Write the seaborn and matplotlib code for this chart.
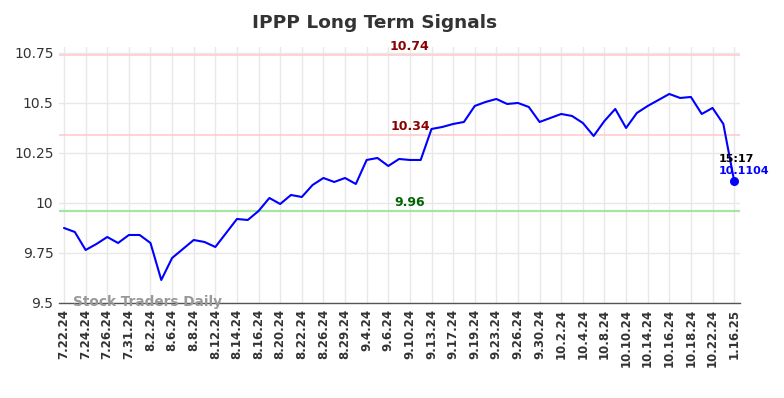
import pandas as pd
import seaborn as sns
from matplotlib import pyplot as plt

# trading dates (labels shown on every other point)
dates = [
    "7.22.24", "7.23.24", "7.24.24", "7.25.24", "7.26.24", "7.29.24", "7.31.24", "8.1.24",
    "8.2.24", "8.5.24", "8.6.24", "8.7.24", "8.8.24", "8.9.24", "8.12.24", "8.13.24",
    "8.14.24", "8.15.24", "8.16.24", "8.19.24", "8.20.24", "8.21.24", "8.22.24", "8.23.24",
    "8.26.24", "8.27.24", "8.29.24", "8.30.24", "9.4.24", "9.5.24", "9.6.24", "9.9.24",
    "9.10.24", "9.11.24", "9.13.24", "9.16.24", "9.17.24", "9.18.24", "9.19.24", "9.20.24",
    "9.23.24", "9.24.24", "9.26.24", "9.27.24", "9.30.24", "10.1.24", "10.2.24", "10.3.24",
    "10.4.24", "10.7.24", "10.8.24", "10.9.24", "10.10.24", "10.11.24", "10.14.24", "10.15.24",
    "10.16.24", "10.17.24", "10.18.24", "10.21.24", "10.22.24", "10.23.24", "1.16.25",
]
prices = [
    9.875, 9.855, 9.765, 9.795, 9.83, 9.80, 9.84, 9.84, 9.80, 9.615,
    9.725, 9.77, 9.815, 9.805, 9.78, 9.85, 9.92, 9.915, 9.96, 10.025,
    9.995, 10.04, 10.03, 10.09, 10.125, 10.105, 10.125, 10.095, 10.215, 10.225,
    10.185, 10.22, 10.215, 10.215, 10.37, 10.38, 10.395, 10.405, 10.485, 10.505,
    10.52, 10.495, 10.50, 10.48, 10.405, 10.425, 10.445, 10.435, 10.40, 10.335,
    10.41, 10.47, 10.375, 10.45, 10.485, 10.515, 10.545, 10.525, 10.53, 10.445,
    10.475, 10.395, 10.1104,
]
resistance_levels = [10.74, 10.34]
support_levels = [9.96]
last_time = "15:17"

df = pd.DataFrame({"idx": range(len(prices)), "price": prices})

sns.set_theme(style="whitegrid")
plt.rcParams['font.family'] = ['DejaVu Sans']

fig = plt.figure(figsize=(7.84, 3.98), dpi=100)
ax = fig.add_axes([0.0753, 0.2387, 0.8687, 0.6433])

for lvl in resistance_levels:
    ax.axhline(lvl, color="#ffcccc", lw=1.2, zorder=1)
for lvl in support_levels:
    ax.axhline(lvl, color="#a3e6a3", lw=1.6, zorder=1)

sns.lineplot(data=df, x="idx", y="price", ax=ax, color="blue", lw=1.5, zorder=3)
ax.scatter([df["idx"].iloc[-1]], [prices[-1]], color="blue", s=30, zorder=4)

mid = 32
for lvl in resistance_levels:
    ax.text(mid, lvl + 0.012, f"{lvl:.2f}", color="#8b0000", fontsize=9,
            fontweight="bold", ha="center", va="bottom")
for lvl in support_levels:
    ax.text(mid, lvl + 0.012, f"{lvl:.2f}", color="#006400", fontsize=9,
            fontweight="bold", ha="center", va="bottom")

last_x = df["idx"].iloc[-1]
ax.text(last_x - 1.4, prices[-1] + 0.11, last_time, color="black", fontsize=8,
        fontweight="bold", ha="left", va="center")
ax.text(last_x - 1.4, prices[-1] + 0.048, f"{prices[-1]:.4f}", color="blue", fontsize=8,
        fontweight="bold", ha="left", va="center")

ax.text(0.8, 9.505, "Stock Traders Daily", color="#999999", fontsize=9.8,
        fontweight="bold", ha="left", va="center", zorder=5)

ax.set_xlim(-0.46, 62.55)
ax.set_ylim(9.5, 10.78)
ax.set_yticks([9.5, 9.75, 10, 10.25, 10.5, 10.75])
ax.set_yticklabels(["9.5", "9.75", "10", "10.25", "10.5", "10.75"], fontsize=10, color="#333333")
ticks = list(range(0, len(dates), 2))
ax.set_xticks(ticks)
ax.set_xticklabels([dates[i] for i in ticks], rotation=90, fontsize=8.5,
                   fontweight="bold", color="#333333")
ax.tick_params(axis="both", length=0, pad=4)
ax.set_xlabel("")
ax.set_ylabel("")
ax.grid(color="#e8e8e8", lw=1)
for s in ["left", "right", "top"]:
    ax.spines[s].set_visible(False)
ax.spines["bottom"].set_color("#555555")
ax.spines["bottom"].set_linewidth(1)

fig.suptitle("IPPP Long Term Signals", x=0.478, y=0.965, fontsize=13.3,
             fontweight="bold", color="#333333")

fig.savefig("out.png", dpi=100)
